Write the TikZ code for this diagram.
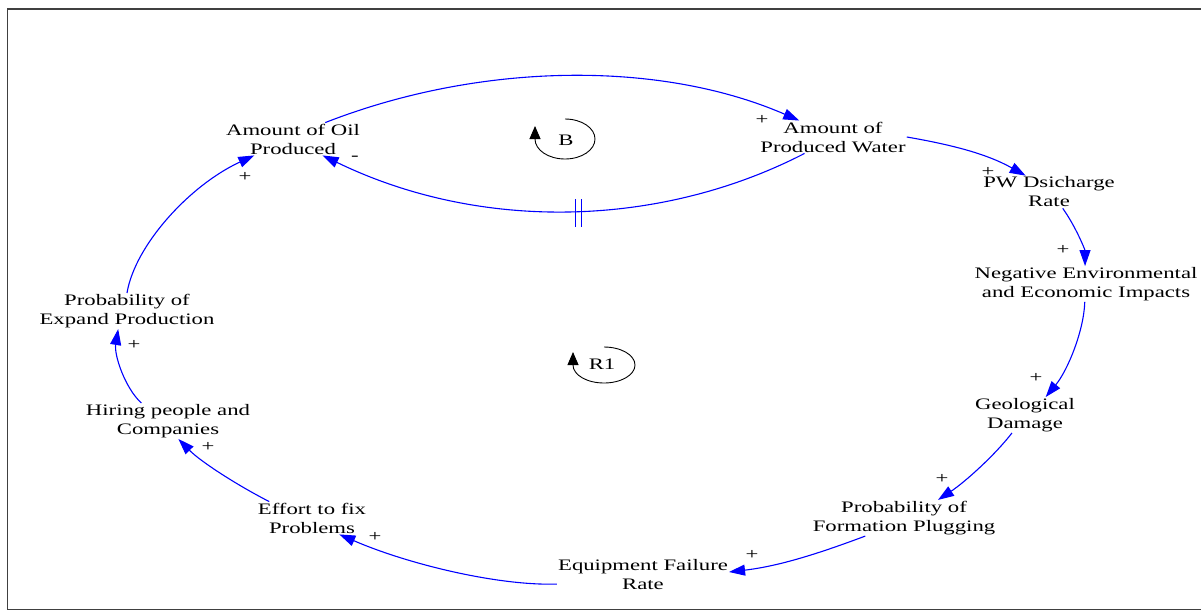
\documentclass[tikz,border=0pt]{standalone}
\usepackage{fontspec}
\setmainfont{Liberation Serif}[FakeStretch=1.42]
\usetikzlibrary{arrows.meta}
\begin{document}
\begin{tikzpicture}[x=1pt,y=-1pt,
  var/.style={align=center, inner sep=1pt, font=\fontsize{16}{19}\selectfont},
  lnk/.style={draw=blue, line width=1.1pt, -{Triangle[length=16pt,width=11pt]}},
  pol/.style={font=\fontsize{16}{16}\selectfont, inner sep=0pt},
  looplbl/.style={font=\fontsize{16}{16}\selectfont, inner sep=0pt},
  looparc/.style={draw=black, line width=0.9pt, -{Triangle[length=13pt,width=11pt]}},
  frameline/.style={draw=black!75, line width=1.5pt}]
\useasboundingbox (0,0) rectangle (1201,611);
\draw[frameline] (1201,9) -- (7.5,9) -- (7.5,609.5) -- (1201,609.5);

% variables
\node[var] (oil) at (293,139) {Amount of Oil\\Produced};
\node[var] (water) at (833,137) {Amount of\\Produced Water};
\node[var] (pw) at (1049,192) {PW Dsicharge\\Rate};
\node[var] (neg) at (1086,284) {Negative Environmental\\and Economic Impacts};
\node[var] (geo) at (1025,415) {Geological\\Damage};
\node[var] (form) at (904,518) {Probability of\\Formation Plugging};
\node[var] (equip) at (643,575) {Equipment Failure\\Rate};
\node[var] (effort) at (312,518) {Effort to fix\\Problems};
\node[var] (hiring) at (168,421) {Hiring people and\\Companies};
\node[var] (expand) at (127,311) {Probability of\\Expand Production};

% links
\draw[lnk] (oil.27) .. controls (480,62) and (660,60) .. (water.154);
\draw[lnk] (water.210) .. controls (660,228) and (480,232) .. (oil.331);
\draw[lnk] (water.0) .. controls (953,145) and (987,154) .. (pw.145);
\draw[lnk] (pw.310) .. controls (1076,227) and (1085,250) .. (neg.93);
\draw[lnk] (neg.266) .. controls (1084,330) and (1068,370) .. (geo.41);
\draw[lnk] (geo.234) .. controls (995,455) and (965,482) .. (form.28);
\draw[lnk] (form.205) .. controls (820,553) and (780,566) .. (equip.2);
\draw[lnk] (equip.186) .. controls (500,586) and (410,565) .. (effort.329);
\draw[lnk] (effort.159) .. controls (235,484) and (200,461) .. (hiring.300);
\draw[lnk] (hiring.146) .. controls (125,388) and (114,355) .. (expand.244);
\draw[lnk] (expand.90) .. controls (135,245) and (190,185) .. (oil.203);

% delay mark
\draw[blue, line width=1pt] (575,199) -- (575,227) (581,199) -- (581,227);

% polarities
\node[pol] (p1) at (762,120) {+};
\node[pol] (p2) at (355,158) {-};
\node[pol] (p3) at (988,172) {+};
\node[pol] (p4) at (1063,250) {+};
\node[pol] (p5) at (1036,378) {+};
\node[pol] (p6) at (942,479) {+};
\node[pol] (p7) at (752,555) {+};
\node[pol] (p8) at (375,537) {+};
\node[pol] (p9) at (208,447) {+};
\node[pol] (p10) at (134,345) {+};
\node[pol] (p11) at (245,177) {+};

% loop markers
\draw[looparc] (565,119) arc[start angle=270, end angle=540, x radius=30, y radius=20] -- (535,126);
\node[looplbl] (bl) at (566,140) {B};
\draw[looparc] (604,347) arc[start angle=270, end angle=540, x radius=31, y radius=18] -- (573,352);
\node[looplbl] (rl) at (602,364) {R1};
\end{tikzpicture}
\end{document}
